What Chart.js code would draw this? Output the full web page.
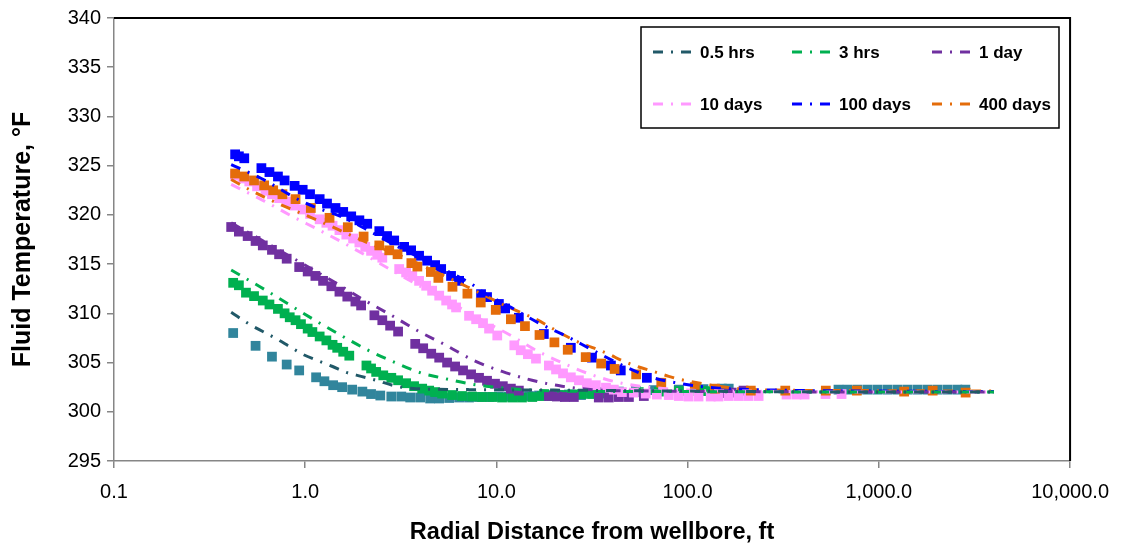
<!DOCTYPE html>
<html>
<head>
<meta charset="utf-8">
<script src="https://cdn.jsdelivr.net/npm/chart.js@4.4.1/dist/chart.umd.min.js"></script>
<style>
  html, body { margin: 0; padding: 0; background: #fff; }
</style>
</head>
<body>
<canvas id="chart" width="1121" height="550"></canvas>
<script>
const seriesNames = ['0.5 hrs', '3 hrs', '1 day', '10 days', '100 days', '400 days'];
const lineColors = ['#215968', '#00B050', '#7030A0', '#FF99FF', '#0000FF', '#E46C0A'];
const markerColors = ['#31859C', '#00B050', '#7030A0', '#FF99FF', '#0000FF', '#E46C0A'];

const xTickValues = [0.1, 1, 10, 100, 1000, 10000];
const xTickLabels = ['0.1', '1.0', '10.0', '100.0', '1,000.0', '10,000.0'];
const yTickValues = [295, 300, 305, 310, 315, 320, 325, 330, 335, 340];

// measured points (radial distance ft, temperature F)
const pts05X = [0.42,0.55,0.67,0.80,0.93,1.14,1.26,1.40,1.56,1.76,1.99,2.21,2.47,2.82,3.18,3.54,3.99,4.50,5.02,5.66,6.38,7.19,8.11,9.15,10.3,11.6,13.1,14.8,16.7,18.8,21.2,23.9,27.7,31.2,36.5,43.7,53.6,66.5,89.9,121,151,164,615,686,773,872,983,1109,1251,1410,1591,1794,2023,2282,2573,2834];
const pts05T = [308.0,306.7,305.6,304.8,304.2,303.5,303.1,302.7,302.5,302.25,302.05,301.8,301.65,301.55,301.55,301.45,301.45,301.35,301.35,301.4,301.45,301.45,301.5,301.5,301.55,301.55,301.6,301.6,301.65,301.7,301.7,301.75,301.7,301.9,302.0,302.05,302.1,302.2,302.25,302.3,302.35,302.35,302.25,302.25,302.25,302.25,302.25,302.25,302.25,302.25,302.25,302.25,302.25,302.25,302.25,302.25];

const pts3hX = [0.42,0.45,0.49,0.54,0.60,0.65,0.72,0.78,0.83,0.89,0.95,1.03,1.09,1.19,1.29,1.39,1.47,1.58,1.70,2.09,2.21,2.35,2.56,2.82,3.06,3.37,3.71,4.09,4.45,4.78,5.20,5.86,6.61,7.46,8.41,9.49,10.7,12.1,13.6,15.4,17.3,19.5,22.0,24.8,28.0,31.6,35.6,43.7,55.5,70.7,89.9,114,124];
const pts3hT = [313.1,312.85,312.1,311.75,311.3,310.9,310.45,310.0,309.6,309.3,308.9,308.45,308.1,307.65,307.25,306.8,306.5,306.1,305.7,304.7,304.4,304.05,303.7,303.45,303.2,302.9,302.6,302.35,302.15,302.0,301.85,301.7,301.6,301.55,301.5,301.5,301.45,301.45,301.45,301.5,301.6,301.6,301.7,301.75,301.8,301.8,301.85,301.95,302.0,302.05,302.1,302.1,302.1];

const pts1dX = [0.41,0.45,0.50,0.55,0.60,0.67,0.73,0.80,0.93,1.03,1.13,1.24,1.37,1.51,1.66,1.83,1.96,2.30,2.53,2.78,3.06,3.76,4.14,4.56,5.02,5.52,6.08,6.69,7.37,8.11,8.93,9.83,10.8,11.9,13.1,18.8,20.7,22.8,25.4,34.3,38.7,43.7,49.3,59.0,151,170,196];
const pts1dT = [318.77,318.3,317.85,317.35,316.9,316.45,316.0,315.55,314.7,314.25,313.8,313.3,312.75,312.2,311.7,311.2,310.8,309.8,309.3,308.75,308.15,306.9,306.45,305.9,305.5,305.0,304.6,304.2,303.8,303.45,303.15,302.85,302.6,302.35,302.15,301.6,301.55,301.5,301.5,301.45,301.45,301.5,301.5,301.6,301.9,301.95,302.15];

const pts10dX = [0.43,0.47,0.51,0.56,0.62,0.67,0.73,0.80,0.88,0.97,1.06,1.19,1.29,1.39,1.51,1.64,1.78,1.92,2.06,2.21,2.38,2.53,3.10,3.37,3.63,3.94,4.29,4.61,5.02,5.46,5.86,6.15,7.19,7.83,8.51,9.15,10.1,12.4,13.4,14.6,16.1,18.8,20.5,22.3,24.5,27.0,29.7,33.1,37.4,41.1,45.3,52.3,60.4,69.0,79.7,89.9,101,114,132,145,164,185,208,235,329,371,409,526,638];
const pts10dT = [324.0,323.7,323.4,322.9,322.45,322.1,321.7,321.35,320.95,320.55,320.1,319.55,319.2,318.9,318.45,318.0,317.6,317.2,316.75,316.35,315.95,315.65,314.5,314.15,313.8,313.3,312.8,312.3,311.8,311.3,310.9,310.6,309.75,309.4,309.0,308.45,307.75,306.75,306.25,305.85,305.4,304.7,304.3,303.9,303.5,303.2,302.9,302.7,302.45,302.25,302.0,301.95,301.85,301.75,301.7,301.6,301.55,301.55,301.55,301.55,301.6,301.6,301.6,301.6,301.75,301.75,301.75,301.8,301.8];

const pts100dX = [0.43,0.45,0.48,0.59,0.65,0.72,0.78,0.88,0.97,1.06,1.19,1.30,1.44,1.58,1.74,1.92,2.11,2.44,2.68,2.92,3.29,3.58,3.94,4.34,4.78,5.14,5.79,6.38,8.31,8.93,10.3,11.1,13.1,17.7,24.5,31.6,39.7,44.7,61.2];
const pts100dT = [326.15,325.95,325.75,324.75,324.35,323.9,323.5,322.95,322.55,322.1,321.6,321.15,320.7,320.3,319.85,319.45,319.1,318.35,317.85,317.4,316.75,316.4,315.85,315.35,314.9,314.5,313.8,313.3,311.95,311.65,310.95,310.5,309.55,307.9,306.5,305.5,304.7,304.2,303.45];

const pts400dX = [0.43,0.48,0.54,0.61,0.68,0.76,0.89,1.07,1.34,1.67,2.02,2.44,2.75,3.04,3.59,3.86,4.54,4.97,5.89,7.05,8.28,9.92,11.9,14.1,16.8,20.1,23.6,29.3,35.3,41.5,53.8,72.8,109,139,214,324,528,767,1356,1912,2843];
const pts400dT = [324.2,323.9,323.5,323.0,322.5,322.1,321.6,320.7,319.7,318.75,317.8,316.9,316.4,316.0,315.1,314.75,314.2,313.6,312.7,312.0,311.1,310.35,309.4,308.7,307.8,307.05,306.3,305.55,304.9,304.35,303.8,302.95,302.5,302.35,302.15,302.15,302.15,302.15,302.05,302.15,301.95];

// model curves
const line05X = [0.41,0.51,0.60,0.71,0.84,0.98,1.16,1.39,1.64,1.96,2.35,2.99,3.80,7.2,20,100,1000,4000];
const line05T = [310.1,308.9,308.15,307.4,306.55,305.8,305.2,304.6,304.0,303.6,303.2,302.6,302.35,302.25,302.2,302.1,302.0,302.0];

const line3hX = [0.41,0.58,0.80,1.09,1.51,2.11,2.96,4.09,5.02,7.19,8.83,15.35,22.0,100,1000,4000];
const line3hT = [314.4,312.7,311.05,309.45,307.85,306.3,305.0,303.9,303.5,302.85,302.6,302.2,302.1,302.05,302.0,302.0];

const line1dX = [0.41,0.78,1.47,1.99,2.82,3.90,5.46,7.64,10.70,15.35,22.0,34.3,62.7,200,1000,4000];
const line1dT = [319.2,316.1,313.0,311.45,309.8,308.2,306.75,305.2,304.1,303.2,302.6,302.2,302.1,302.05,302.0,302.0];

const line10dX = [0.41,0.611,0.846,1.185,1.639,2.438,3.943,6.378,9.952,11.64,16.10,22.54,31.57,45.28,62.66,101.3,208.4,1000,4000];
const line10dT = [323.1,321.4,319.9,318.45,317.0,315.1,312.8,310.6,308.55,307.85,306.25,304.9,303.75,302.9,302.5,302.2,302.1,302.0,302.0];

const line100dX = [0.41,0.590,0.977,1.659,2.240,3.100,4.556,7.368,8.615,11.92,17.10,23.09,32.34,47.51,64.95,93.17,145.3,299.1,1000,4000];
const line100dT = [325.1,323.7,321.3,319.55,318.2,316.7,315.1,313.0,312.1,310.6,308.9,307.7,306.2,304.55,303.5,302.85,302.4,302.2,302.1,302.05];

const line400dX = [0.41,0.530,0.733,1.026,1.454,1.987,3.100,4.722,7.022,11.64,16.10,19.51,22.54,27.00,31.57,39.20,45.28,55.54,64.95,79.65,93.17,184.9,287.7,915.2,4000];
const line400dT = [323.6,322.4,321.1,319.9,318.6,317.4,315.9,314.3,312.7,310.6,309.4,308.5,307.8,307.05,306.55,305.8,305.2,304.55,304.15,303.6,303.25,302.35,302.2,302.15,302.1];

const pointSets = [[pts05X, pts05T], [pts3hX, pts3hT], [pts1dX, pts1dT], [pts10dX, pts10dT], [pts100dX, pts100dT], [pts400dX, pts400dT]];
const lineSets = [[line05X, line05T], [line3hX, line3hT], [line1dX, line1dT], [line10dX, line10dT], [line100dX, line100dT], [line400dX, line400dT]];

const FONT = "'Liberation Sans', Arial, sans-serif";
const DASH = [10, 8, 2, 8];

const toXY = (xs, ys) => xs.map((x, i) => ({ x, y: ys[i] }));

const datasets = [];
lineSets.forEach(([xs, ys], i) => {
  datasets.push({
    label: seriesNames[i],
    data: toXY(xs, ys),
    showLine: true,
    borderColor: lineColors[i],
    borderWidth: 3,
    borderDash: DASH,
    cubicInterpolationMode: 'monotone',
    pointRadius: 0,
    order: i,
    isModel: true,
  });
});
pointSets.forEach(([xs, ys], i) => {
  datasets.push({
    label: seriesNames[i] + ' data',
    data: toXY(xs, ys),
    showLine: false,
    pointStyle: 'rect',
    pointRadius: 6.9,
    pointBorderWidth: 0,
    pointBackgroundColor: markerColors[i],
    backgroundColor: markerColors[i],
    order: 6 + (5 - i),
  });
});

const framePlugin = {
  id: 'frame',
  afterDraw(chart) {
    const { ctx, chartArea: a } = chart;
    ctx.save();
    ctx.strokeStyle = '#000';
    ctx.lineWidth = 2;
    ctx.beginPath();
    ctx.moveTo(a.left, a.top);
    ctx.lineTo(a.right, a.top);
    ctx.lineTo(a.right, a.bottom);
    ctx.stroke();
    ctx.restore();
  }
};

const boxLegend = {
  id: 'boxLegend',
  afterDraw(chart) {
    const ctx = chart.ctx;
    const cols = [653, 792, 932];
    const rows = [52, 104];
    ctx.save();
    ctx.fillStyle = '#fff';
    ctx.fillRect(641, 27, 418, 101);
    ctx.strokeStyle = '#000';
    ctx.lineWidth = 1.5;
    ctx.strokeRect(641, 27, 418, 101);
    chart.data.datasets.filter(d => d.isModel).forEach((d, i) => {
      const x = cols[i % 3], y = rows[Math.floor(i / 3)];
      ctx.strokeStyle = d.borderColor;
      ctx.lineWidth = 3;
      ctx.setLineDash(DASH);
      ctx.beginPath();
      ctx.moveTo(x, y);
      ctx.lineTo(x + 40, y);
      ctx.stroke();
      ctx.setLineDash([]);
      ctx.fillStyle = '#000';
      ctx.font = 'bold 17px ' + FONT;
      ctx.textBaseline = 'middle';
      ctx.fillText(d.label, x + 47, y + 1);
    });
    ctx.restore();
  }
};

new Chart(document.getElementById('chart'), {
  type: 'scatter',
  data: { datasets },
  options: {
    responsive: false,
    animation: false,
    layout: { padding: { left: 0, right: 49, top: 16, bottom: 0 } },
    plugins: { legend: { display: false }, tooltip: { enabled: false } },
    scales: {
      x: {
        type: 'logarithmic',
        min: 0.1,
        max: 10000,
        afterBuildTicks: s => { s.ticks = xTickValues.map(v => ({ value: v })); },
        afterFit: s => { s.height = 89; },
        ticks: {
          autoSkip: false,
          maxRotation: 0,
          padding: 12,
          color: '#000',
          font: { family: FONT, size: 20 },
          callback: (v, i) => xTickLabels[i],
        },
        grid: { drawOnChartArea: false, drawTicks: true, tickLength: 7, color: '#868686', lineWidth: 1.5 },
        border: { color: '#868686', width: 1.5 },
        title: {
          display: true,
          text: 'Radial Distance from wellbore, ft',
          color: '#000',
          font: { family: FONT, size: 23.5, weight: 'bold' },
          padding: { top: 0, bottom: 3 },
        },
      },
      y: {
        min: 295,
        max: 340,
        afterBuildTicks: s => { s.ticks = yTickValues.map(v => ({ value: v })); },
        afterFit: s => { s.width = 114; },
        ticks: {
          padding: 6,
          color: '#000',
          font: { family: FONT, size: 20 },
        },
        grid: { drawOnChartArea: false, drawTicks: true, tickLength: 7, color: '#868686', lineWidth: 1.5 },
        border: { color: '#868686', width: 1.5 },
        title: {
          display: true,
          text: 'Fluid Temperature, °F',
          color: '#000',
          font: { family: FONT, size: 25, weight: 'bold' },
          padding: { top: 8, bottom: 0 },
        },
      },
    },
  },
  plugins: [framePlugin, boxLegend],
});
</script>
</body>
</html>
